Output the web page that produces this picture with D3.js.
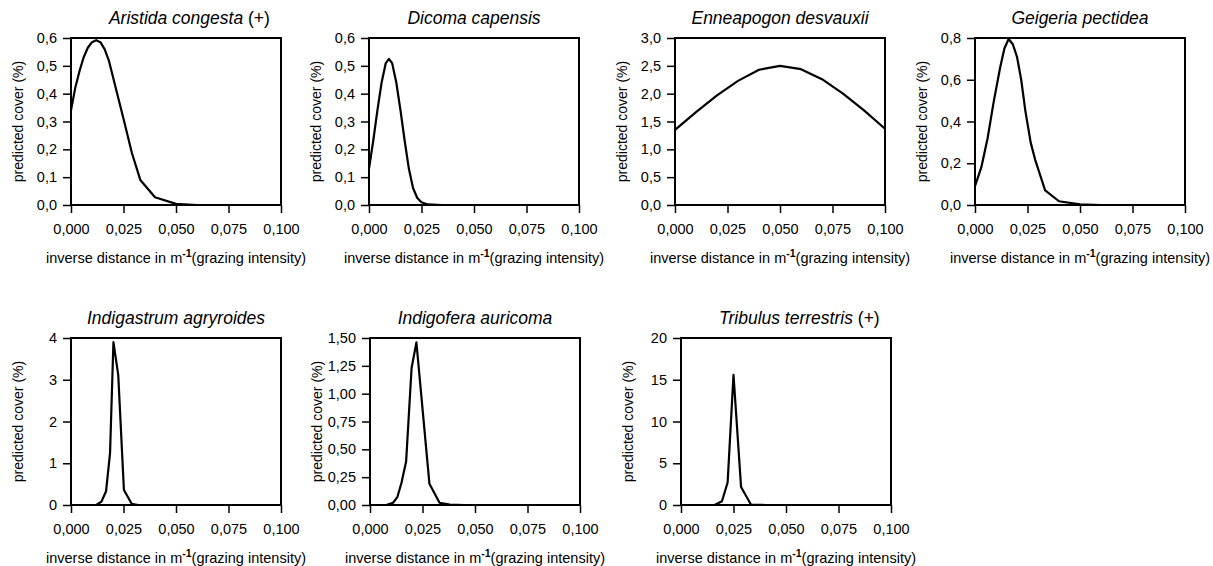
<!DOCTYPE html>
<html>
<head>
<meta charset="utf-8">
<script src="https://cdn.jsdelivr.net/npm/d3@7"></script>
<style>
  body { margin: 0; background: #fff; }
  text { font-family: "Liberation Sans", Arial, sans-serif; fill: #000; }
</style>
</head>
<body>
<div id="chart"></div>
<script>
// Predicted cover vs. inverse distance, one small panel per species

// Species names (italic part) and the note that follows some of them
var species = ["Aristida congesta", "Dicoma capensis", "Enneapogon desvauxii", "Geigeria pectidea",
               "Indigastrum agryroides", "Indigofera auricoma", "Tribulus terrestris"];
var notes = ["(+)", "", "", "", "", "", "(+)"];

// x tick values (shared by all panels)
var xTicks = [0, 0.025, 0.05, 0.075, 0.1];

// y axis maximum, tick step and decimals of each panel
var yMax = [0.6, 0.6, 3.0, 0.8, 4, 1.5, 20];
var yStep = [0.1, 0.1, 0.5, 0.2, 1, 0.25, 5];
var yDecimals = [1, 1, 1, 1, 0, 2, 0];

// curves
var aristidaX = [0, 0.002, 0.004, 0.006, 0.008, 0.010, 0.012, 0.014, 0.016, 0.018, 0.020, 0.022, 0.025, 0.029, 0.033, 0.040, 0.050, 0.060, 0.100];
var aristidaY = [0.34, 0.42, 0.48, 0.53, 0.565, 0.585, 0.592, 0.585, 0.56, 0.52, 0.46, 0.40, 0.31, 0.187, 0.09, 0.028, 0.004, 0, 0];

var dicomaX = [0, 0.002, 0.004, 0.006, 0.008, 0.0095, 0.011, 0.013, 0.015, 0.017, 0.019, 0.021, 0.023, 0.025, 0.028, 0.035, 0.100];
var dicomaY = [0.13, 0.23, 0.34, 0.44, 0.51, 0.525, 0.51, 0.44, 0.34, 0.23, 0.13, 0.06, 0.025, 0.01, 0.002, 0, 0];

var enneapogonX = [0, 0.01, 0.02, 0.03, 0.04, 0.05, 0.06, 0.07, 0.08, 0.09, 0.10];
var enneapogonY = [1.35, 1.67, 1.97, 2.23, 2.43, 2.50, 2.44, 2.26, 2.00, 1.70, 1.37];

var geigeriaX = [0, 0.003, 0.006, 0.009, 0.012, 0.014, 0.016, 0.018, 0.020, 0.022, 0.024, 0.0265, 0.0287, 0.0334, 0.040, 0.050, 0.060, 0.100];
var geigeriaY = [0.09, 0.18, 0.32, 0.50, 0.66, 0.75, 0.795, 0.77, 0.71, 0.60, 0.45, 0.30, 0.215, 0.07, 0.018, 0.003, 0, 0];

var indigastrumX = [0, 0.012, 0.0145, 0.0167, 0.0186, 0.0202, 0.0225, 0.0252, 0.0289, 0.032, 0.100];
var indigastrumY = [0, 0, 0.08, 0.33, 1.25, 3.9, 3.11, 0.36, 0.03, 0, 0];

var indigoferaX = [0, 0.008, 0.011, 0.013, 0.015, 0.0172, 0.0198, 0.0221, 0.0283, 0.0331, 0.038, 0.045, 0.100];
var indigoferaY = [0, 0.002, 0.02, 0.07, 0.2, 0.39, 1.23, 1.46, 0.19, 0.02, 0.003, 0, 0];

var tribulusX = [0, 0.016, 0.0195, 0.0222, 0.025, 0.0286, 0.0333, 0.040, 0.100];
var tribulusY = [0, 0, 0.45, 2.7, 15.6, 2.15, 0.05, 0, 0];

var curveX = [aristidaX, dicomaX, enneapogonX, geigeriaX, indigastrumX, indigoferaX, tribulusX];
var curveY = [aristidaY, dicomaY, enneapogonY, geigeriaY, indigastrumY, indigoferaY, tribulusY];

// page and panel layout
var svgWidth = 1213;
var svgHeight = 566;
var plotW = 210;
var plotH = 167;
var plotLeft = [71, 369, 675, 975, 71, 370, 681];
var plotTop = [38, 38, 38, 38, 338, 338, 338];

var svg = d3.select("#chart")
    .append("svg")
    .attr("width", svgWidth)
    .attr("height", svgHeight);

// comma as decimal sign
var locale = d3.formatLocale({decimal: ",", thousands: ".", grouping: [3], currency: ["", ""]});

species.forEach(function(name, i) {

    var g = svg.append("g")
        .attr("transform", `translate(${plotLeft[i]}, ${plotTop[i]})`);

    var x = d3.scaleLinear().domain([0, 0.1]).range([0, plotW]);
    var y = d3.scaleLinear().domain([0, yMax[i]]).range([plotH, 0]);

    var yTicks = d3.range(0, yMax[i] + yStep[i] / 2, yStep[i]);

    var xAxis = d3.axisBottom(x)
        .tickValues(xTicks)
        .tickFormat(locale.format(".3f"))
        .tickSize(8)
        .tickPadding(11);

    var yAxis = d3.axisLeft(y)
        .tickValues(yTicks)
        .tickFormat(locale.format("." + yDecimals[i] + "f"))
        .tickSize(8)
        .tickPadding(6);

    var gx = g.append("g")
        .attr("transform", `translate(0, ${plotH})`)
        .call(xAxis);
    var gy = g.append("g").call(yAxis);

    [gx, gy].forEach(function(a) {
        a.select(".domain").remove();
        a.selectAll("line").attr("stroke", "#000").attr("stroke-width", 1.5);
        a.selectAll("text")
          .attr("font-size", "14.5px")
          .attr("font-family", "Liberation Sans, Arial, sans-serif");
    });

    // frame
    g.append("rect")
        .attr("width", plotW)
        .attr("height", plotH)
        .attr("fill", "none")
        .attr("stroke", "#000")
        .attr("stroke-width", 2);

    // curve
    var pts = curveX[i].map(function(v, k) { return [v, curveY[i][k]]; });
    g.append("path")
        .datum(pts)
        .attr("fill", "none")
        .attr("stroke", "#000")
        .attr("stroke-width", 2.2)
        .attr("stroke-linejoin", "round")
        .attr("d", d3.line()
            .x(d => x(d[0]))
            .y(d => y(d[1])));

    // title: italic species name centred over the plot, note after it
    var title = g.append("text")
        .attr("x", plotW / 2)
        .attr("y", -14)
        .attr("font-size", "17.5px");
    title.append("tspan")
        .attr("font-style", "italic")
        .text(name);
    if (notes[i]) {
        title.append("tspan").text(" " + notes[i]);
    }
    // keep the italic name centred
    var nameW = title.select("tspan").node().getComputedTextLength();
    title.attr("x", plotW / 2 - nameW / 2);

    // axis labels
    var xl = g.append("text")
        .attr("x", plotW / 2)
        .attr("y", plotH + 58)
        .attr("text-anchor", "middle")
        .attr("font-size", "14.5px");
    xl.append("tspan").text("inverse distance in m");
    xl.append("tspan")
        .attr("dy", -6)
        .attr("font-size", "10.5px")
        .attr("font-weight", "bold")
        .text("-1");
    xl.append("tspan")
        .attr("dy", 6)
        .text("(grazing intensity)");

    g.append("text")
        .attr("transform", "rotate(-90)")
        .attr("x", -plotH / 2)
        .attr("y", -48)
        .attr("text-anchor", "middle")
        .attr("font-size", "14px")
        .text("predicted cover (%)");
});
</script>
</body>
</html>
